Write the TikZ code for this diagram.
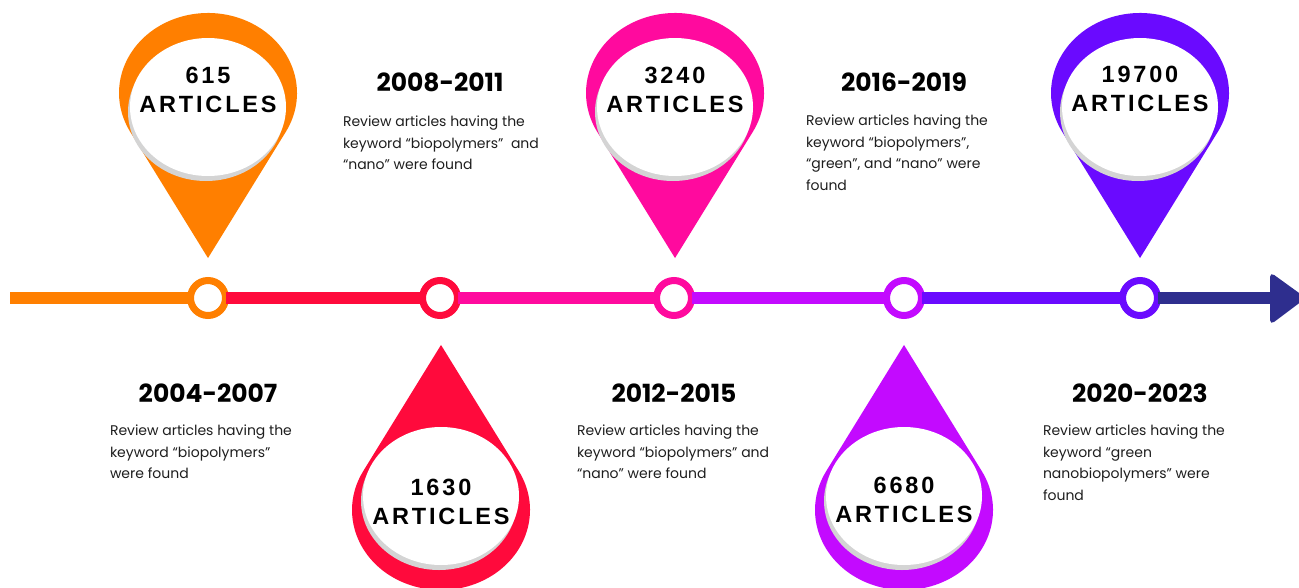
\documentclass[tikz,border=0pt]{standalone}
\usepackage{fontspec}
\setmainfont{Poppins}
\newfontfamily\pinfont[LetterSpace=12]{Liberation Sans}
\usetikzlibrary{positioning}

\definecolor{pinorange}{HTML}{FF7F00}
\definecolor{pinred}{HTML}{FF0A3C}
\definecolor{pinpink}{HTML}{FF0A9E}
\definecolor{pinpurple}{HTML}{C30AFF}
\definecolor{pinviolet}{HTML}{6A0AFF}
\definecolor{arrownavy}{HTML}{2E2E8E}
\definecolor{textgrey}{HTML}{1E1E1E}
\definecolor{faceshade}{HTML}{D4D4D4}

% #1 x, #2 ring centre y, #3 yscale (- : tip down), #4 face centre y, #5 colour
\newcommand{\mappin}[5]{%
    \begin{scope}[shift={(#1,#2)},yscale=#3]
        \fill[#5] (0,-183.6) -- (-29:89) arc[start angle=-29,end angle=209,radius=89] -- cycle;
    \end{scope}
    \fill[faceshade] (#1-2,#4+5) ellipse[x radius=78,y radius=69];
    \fill[white] (#1,#4) ellipse[x radius=78,y radius=69];
}

\begin{document}
\begin{tikzpicture}[x=1pt,y=-1pt]
                        \tikzstyle{every node}=[inner sep=0,outer sep=0]
                        \tikzstyle{stopring}=[circle,draw,fill=white,line width=7,minimum size=35]
                        \tikzstyle{trackline}=[line width=12]
                        \tikzstyle{pinlabel}=[font=\pinfont\bfseries\fontsize{23.5}{29}\selectfont,align=center,text=black]
                        \tikzstyle{period}=[font=\bfseries\fontsize{25}{30}\selectfont,text=black]
                        \tikzstyle{note}=[font=\fontsize{14}{21.5}\selectfont,align=left,anchor=north west,text=textgrey]
                        {
                            \useasboundingbox (0,0) rectangle (1299,587);

                            % pins
                            \mappin{208}{93}{-0.899}{107}{pinorange}
                            \mappin{441}{510}{0.899}{496}{pinred}
                            \mappin{675}{93}{-0.899}{107}{pinpink}
                            \mappin{904}{510}{0.899}{496}{pinpurple}
                            \mappin{1140}{93}{-0.899}{107}{pinviolet}

                            \node[pinlabel] (p615) at (208,89.5) {615\\ARTICLES};
                            \node[pinlabel] (p1630) at (441,502) {1630\\ARTICLES};
                            \node[pinlabel] (p3240) at (675,90) {3240\\ARTICLES};
                            \node[pinlabel] (p6680) at (904,500) {6680\\ARTICLES};
                            \node[pinlabel] (p19700) at (1140,89) {19700\\ARTICLES};

                            % timeline
                            \coordinate (start) at (10,298);
                            \coordinate (arrowend) at (1272,298);
                            \node[stopring,draw=pinorange] (t1) at (208,298) {};
                            \node[stopring,draw=pinred] (t2) at (440,298) {};
                            \node[stopring,draw=pinpink] (t3) at (674,298) {};
                            \node[stopring,draw=pinpurple] (t4) at (904,298) {};
                            \node[stopring,draw=pinviolet] (t5) at (1140,298) {};

                            \draw[trackline,pinorange] (start) -- (t1);
                            \draw[trackline,pinred] (t1) -- (t2);
                            \draw[trackline,pinpink] (t2) -- (t3);
                            \draw[trackline,pinpurple] (t3) -- (t4);
                            \draw[trackline,pinviolet] (t4) -- (t5);
                            \draw[trackline,arrownavy] (t5) -- (arrowend);
                            \fill[arrownavy,rounded corners=5] (1270,272) -- (1306,298) -- (1270,325) -- cycle;

                            % periods and notes
                            \node[period] (y1) at (208,393) {2004-2007};
                            \node[period] (y2) at (440,82) {2008-2011};
                            \node[period] (y3) at (674,393) {2012-2015};
                            \node[period] (y4) at (904,82) {2016-2019};
                            \node[period] (y5) at (1140,393) {2020-2023};

                            \node[note] (n1) at (110,425) {Review articles having the\\keyword “biopolymers”\\were found};
                            \node[note] (n2) at (343,116) {Review articles having the\\keyword “biopolymers”\ \ and\\“nano” were found};
                            \node[note] (n3) at (577,425) {Review articles having the\\keyword “biopolymers” and\\“nano” were found};
                            \node[note] (n4) at (806,115) {Review articles having the\\keyword “biopolymers”,\\“green”, and “nano” were\\found};
                            \node[note] (n5) at (1043,425) {Review articles having the\\keyword “green\\nanobiopolymers” were\\found};
                        }
                    \end{tikzpicture}
\end{document}
